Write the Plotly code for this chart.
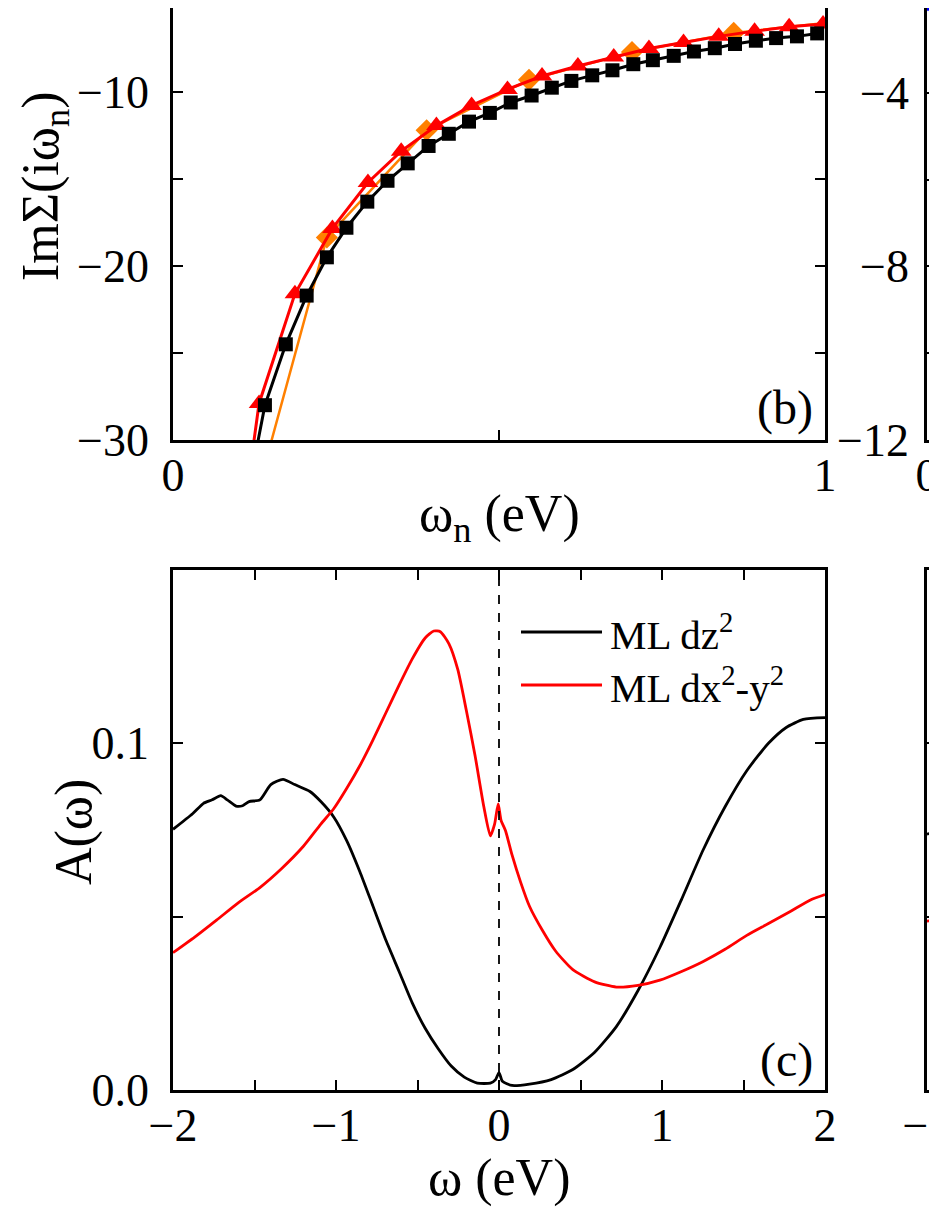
import plotly.graph_objects as go

# ---------------- data: panel (b) ImSigma(i w_n) ----------------
black_x = [0.016, 0.047, 0.078, 0.110, 0.141, 0.173, 0.205, 0.236, 0.266, 0.298, 0.329, 0.360,
           0.392, 0.423, 0.454, 0.486, 0.518, 0.550, 0.581, 0.611, 0.643, 0.674,
           0.706, 0.736, 0.768, 0.799, 0.831, 0.862, 0.894, 0.925, 0.957, 0.988]
black_y = [-120.0, -58.0, -42.0, -34.0, -28.0, -24.5, -21.7, -19.5, -17.8, -16.3, -15.1, -14.1,
           -13.1, -12.4, -11.7, -11.2, -10.6, -10.2, -9.75, -9.36, -9.04, -8.75,
           -8.4, -8.17, -7.92, -7.67, -7.48, -7.24, -7.05, -6.9, -6.8, -6.63]

red_x = [0.078, 0.132, 0.187, 0.2445, 0.299, 0.350, 0.404, 0.458, 0.513, 0.566, 0.621,
         0.676, 0.730, 0.783, 0.837, 0.892, 0.945, 0.997]
red_y = [-42.7, -27.9, -21.6, -17.84, -15.2, -13.4, -11.93, -10.77, -9.85, -9.08, -8.50,
         -7.98, -7.50, -7.15, -6.80, -6.50, -6.25, -6.09]

orange_x = [0.0786, 0.236, 0.389, 0.546, 0.704, 0.860, 1.022]
orange_y = [-40.0, -18.36, -12.2, -9.3, -7.7, -6.6, -5.95]

# ---------------- data: panel (c) A(w) ----------------
dz2_x = [-2.0, -1.88, -1.813, -1.76, -1.707, -1.667, -1.613, -1.573, -1.533, -1.467, -1.4,
         -1.325, -1.253, -1.16, -1.093, -1.013, -0.933, -0.853, -0.773, -0.693, -0.613,
         -0.533, -0.453, -0.373, -0.293, -0.213, -0.133, -0.053, -0.021, 0.0, 0.021, 0.08,
         0.187, 0.32, 0.453, 0.587, 0.72, 0.853, 0.987, 1.12, 1.253, 1.387, 1.52, 1.653,
         1.76, 1.867, 2.0]
dz2_y = [0.0752, 0.0797, 0.0827, 0.0837, 0.0849, 0.0837, 0.0819, 0.082, 0.0832, 0.0837, 0.0881,
         0.0896, 0.0881, 0.0861, 0.0832, 0.0787, 0.0718, 0.0629, 0.053, 0.0431, 0.0342,
         0.0252, 0.0178, 0.0119, 0.0069, 0.0037, 0.002, 0.002, 0.003, 0.005, 0.0025, 0.0013,
         0.0017, 0.003, 0.0059, 0.0109, 0.0183, 0.0287, 0.0411, 0.055, 0.0693, 0.0817, 0.0921,
         0.1, 0.1045, 0.1069, 0.1074]

dx2y2_x = [-2.0, -1.867, -1.733, -1.6, -1.467, -1.333, -1.2, -1.093, -1.013, -0.933, -0.853,
           -0.773, -0.693, -0.613, -0.533, -0.453, -0.4, -0.36, -0.307, -0.253, -0.2, -0.147,
           -0.093, -0.053, -0.027, -0.005, 0.013, 0.04, 0.08, 0.133, 0.187, 0.267, 0.347,
           0.453, 0.587, 0.72, 0.853, 0.987, 1.12, 1.253, 1.387, 1.52, 1.653, 1.787, 1.92, 2.0]
dx2y2_y = [0.0396, 0.0441, 0.049, 0.054, 0.0584, 0.0639, 0.0703, 0.0767, 0.0812, 0.0871, 0.0936,
           0.101, 0.1089, 0.1168, 0.1243, 0.1304, 0.1324, 0.1322, 0.1287, 0.1213, 0.1094, 0.0965,
           0.0817, 0.0733, 0.0767, 0.0825, 0.0777, 0.0748, 0.0678, 0.0599, 0.053, 0.046, 0.0401,
           0.0347, 0.0312, 0.0297, 0.0302, 0.0317, 0.0342, 0.0371, 0.0406, 0.0446, 0.048, 0.0515,
           0.055, 0.0564]

# ---------------- data: partially visible right panels ----------------
right_top_x = [0.0, 0.004, 0.008]
right_top_y = [-2.1, -1.9, -1.7]
right_bot_x = [-2.0, -1.985, -1.97]
right_bot_black_y = [0.0738, 0.0745, 0.0752]
right_bot_red_y = [0.0487, 0.049, 0.0493]

# ---------------- figure ----------------
W, H = 937, 1213
OFF = 8  # page body margin in the browser
FONT = "Liberation Serif"
TICKF = dict(family=FONT, size=46, color="black")

def px_x(p):
    return (p - OFF) / W

def px_y(p):
    return 1 - (p - OFF) / H

fig = go.Figure()

# panel (b)
fig.add_trace(go.Scatter(x=orange_x, y=orange_y, mode="lines+markers", xaxis="x", yaxis="y",
                         line=dict(color="#FF8000", width=2.5),
                         marker=dict(symbol="diamond", size=17, color="#FF8000"), showlegend=False))
fig.add_trace(go.Scatter(x=red_x, y=red_y, mode="lines+markers", xaxis="x", yaxis="y",
                         line=dict(color="#FF0000", width=3),
                         marker=dict(symbol="triangle-up", size=18, color="#FF0000"), showlegend=False))
fig.add_trace(go.Scatter(x=black_x, y=black_y, mode="lines+markers", xaxis="x", yaxis="y",
                         line=dict(color="black", width=3),
                         marker=dict(symbol="square", size=14, color="black"), showlegend=False))

# panel (c)
fig.add_trace(go.Scatter(x=dz2_x, y=dz2_y, mode="lines", xaxis="x2", yaxis="y2",
                         line=dict(color="black", width=2.8, shape="spline", smoothing=0.6),
                         name="ML dz<sup>2</sup>", showlegend=False))
fig.add_trace(go.Scatter(x=dx2y2_x, y=dx2y2_y, mode="lines", xaxis="x2", yaxis="y2",
                         line=dict(color="#FF0000", width=2.8, shape="spline", smoothing=0.6),
                         name="ML dx<sup>2</sup>-y<sup>2</sup>", showlegend=False))

# right partial panels
fig.add_trace(go.Scatter(x=right_top_x, y=right_top_y, mode="lines", xaxis="x3", yaxis="y3",
                         line=dict(color="#0000FF", width=3), showlegend=False))
fig.add_trace(go.Scatter(x=right_bot_x, y=right_bot_black_y, mode="lines", xaxis="x4", yaxis="y4",
                         line=dict(color="black", width=2.8), showlegend=False))
fig.add_trace(go.Scatter(x=right_bot_x, y=right_bot_red_y, mode="lines", xaxis="x4", yaxis="y4",
                         line=dict(color="#FF0000", width=2.8), showlegend=False))

common = dict(showline=True, linecolor="black", linewidth=2.5, ticks="inside", ticklen=10,
              tickwidth=2, tickcolor="black", showgrid=False, zeroline=False, tickfont=TICKF,
              automargin=False, ticklabeloverflow="allow")
minor_common = dict(ticks="inside", ticklen=10, tickwidth=2, tickcolor="black")

xdom_left = [px_x(173), px_x(825)]
ydom_b = [px_y(440), 1.0]
ydom_c = [px_y(1090), px_y(570)]
xdom_right = [px_x(927), 1.0]

XSTAND = -7
YSTAND = 12

fig.update_layout(
    template="none",
    width=W, height=H, margin=dict(l=0, r=0, t=0, b=0, pad=0),
    paper_bgcolor="white", plot_bgcolor="white",
    font=dict(family=FONT, color="black"),
    xaxis=dict(domain=xdom_left, anchor="y", range=[0, 1], tickvals=[0, 1], ticktext=["0", "1"],
               mirror=False, ticklabelstandoff=XSTAND,
               minor=dict(tickvals=[0.5], **minor_common), **common),
    yaxis=dict(domain=ydom_b, anchor="x", range=[-30, -5.17], tickvals=[-30, -20, -10],
               mirror="ticks", ticklabelstandoff=YSTAND,
               minor=dict(tickvals=[-25, -15, -5], **minor_common), **common),
    xaxis2=dict(domain=xdom_left, anchor="y2", range=[-2, 2], tickvals=[-2, -1, 0, 1, 2],
                mirror="ticks", ticklabelstandoff=XSTAND,
                minor=dict(tickvals=[-1.5, -0.5, 0.5, 1.5], **minor_common), **common),
    yaxis2=dict(domain=ydom_c, anchor="x2", range=[0, 0.15], tickvals=[0, 0.1],
                ticktext=["0.0", "0.1"], mirror="ticks", ticklabelstandoff=YSTAND,
                minor=dict(tickvals=[0.05], **minor_common), **common),
    xaxis3=dict(domain=xdom_right, anchor="y3", range=[0, 0.0077], tickvals=[0], ticktext=["0"],
                mirror=False, ticklabelstandoff=XSTAND, **common),
    yaxis3=dict(domain=ydom_b, anchor="x3", range=[-12, -2.05], tickvals=[-12, -8, -4],
                mirror=False, ticklabelstandoff=6,
                minor=dict(tickvals=[-10, -6], **minor_common), **common),
    xaxis4=dict(domain=xdom_right, anchor="y4", range=[-2, -1.969], tickvals=[-2],
                ticktext=["\u22122"], mirror="ticks", ticklabelstandoff=XSTAND, **common),
    yaxis4=dict(domain=ydom_c, anchor="x4", range=[0, 0.15], tickvals=[0.05, 0.1],
                showticklabels=False, mirror=False, **common),
)

# dashed Fermi level line
fig.add_vline(x=0, xref="x2", yref="y2", line=dict(color="black", width=1.8, dash="dash"))

def note(text, xp, yp, size, angle=0, xanchor="center"):
    return dict(text=text, x=px_x(xp), y=px_y(yp), xref="paper", yref="paper",
                xanchor=xanchor, yanchor="middle", textangle=angle, showarrow=False,
                font=dict(family=FONT, size=size, color="black"))

ann = [
    note("ImΣ(iω<sub>n</sub>)", 44, 186, 52, angle=-90),
    note("ω<sub>n</sub> (eV)", 499, 517, 52),
    note("A(ω)", 74, 832, 52, angle=-90),
    note("ω (eV)", 499, 1178, 52),
    note("(b)", 815, 408, 48, xanchor="right"),
    note("(c)", 815, 1060, 48, xanchor="right"),
]
# manual legend
legend_items = [("ML dz<sup>2</sup>", "black", 632), ("ML dx<sup>2</sup>-y<sup>2</sup>", "#FF0000", 685)]
for label, col, yy in legend_items:
    fig.add_shape(type="line", xref="paper", yref="paper", x0=px_x(521), x1=px_x(602),
                  y0=px_y(yy), y1=px_y(yy), line=dict(color=col, width=2.8))
    ann.append(note(label, 608, yy, 41, xanchor="left"))
fig.update_layout(annotations=ann)

fig.write_html("out.html")
